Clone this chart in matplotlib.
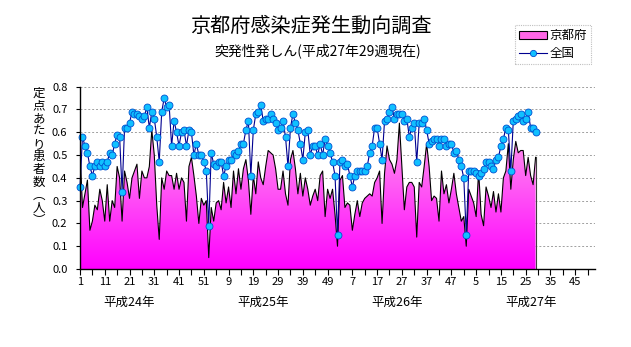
import numpy as np
import matplotlib
matplotlib.use("Agg")
import matplotlib.pyplot as plt
from matplotlib.colors import LinearSegmentedColormap
from matplotlib.patches import Patch
from matplotlib.lines import Line2D
import matplotlib.transforms as mtransforms

plt.rcParams['font.family'] = ['Noto Sans CJK JP', 'DejaVu Sans']

title = "京都府感染症発生動向調査"
subtitle = "突発性発しん(平成27年29週現在)"
series_names = ["京都府", "全国"]
ylabel_chars = ["定", "点", "あ", "た", "り", "患", "者", "数", "︵", "人", "︶"]

# 京都府 (per sentinel), weekly
kyoto_h24 = [0.52, 0.27, 0.33, 0.39, 0.17, 0.21, 0.28, 0.26, 0.35, 0.30,
             0.21, 0.37, 0.21, 0.30, 0.27, 0.45, 0.40, 0.21, 0.43, 0.38,
             0.31, 0.40, 0.43, 0.46, 0.31, 0.43, 0.40, 0.40, 0.45, 0.61,
             0.50, 0.28, 0.13, 0.40, 0.35, 0.43, 0.41, 0.41, 0.35, 0.42,
             0.35, 0.40, 0.38, 0.21, 0.45, 0.49, 0.41, 0.32, 0.20, 0.31,
             0.28, 0.30]
kyoto_h25 = [0.05, 0.27, 0.21, 0.29, 0.30, 0.26, 0.38, 0.29, 0.36, 0.27,
             0.43, 0.33, 0.44, 0.35, 0.44, 0.48, 0.39, 0.24, 0.41, 0.33,
             0.47, 0.40, 0.37, 0.45, 0.52, 0.51, 0.50, 0.44, 0.35, 0.35,
             0.43, 0.33, 0.28, 0.48, 0.52, 0.44, 0.33, 0.42, 0.32, 0.40,
             0.35, 0.28, 0.32, 0.35, 0.30, 0.41, 0.43, 0.23, 0.35, 0.31,
             0.35, 0.24]
kyoto_h26 = [0.10, 0.39, 0.41, 0.27, 0.29, 0.28, 0.17, 0.24, 0.30, 0.23,
             0.29, 0.31, 0.32, 0.33, 0.32, 0.38, 0.40, 0.43, 0.20, 0.42,
             0.54, 0.48, 0.46, 0.42, 0.48, 0.64, 0.45, 0.26, 0.36, 0.38,
             0.38, 0.36, 0.14, 0.38, 0.36, 0.45, 0.55, 0.45, 0.30, 0.32,
             0.31, 0.21, 0.43, 0.33, 0.37, 0.29, 0.35, 0.42, 0.33, 0.27,
             0.21, 0.23]
kyoto_h27 = [0.10, 0.35, 0.32, 0.29, 0.23, 0.43, 0.24, 0.19, 0.36, 0.32,
             0.27, 0.34, 0.25, 0.33, 0.25, 0.40, 0.43, 0.55, 0.35, 0.48,
             0.56, 0.51, 0.52, 0.52, 0.41, 0.49, 0.41, 0.37, 0.49]

# 全国
zenkoku_h24 = [0.36, 0.58, 0.54, 0.51, 0.45, 0.41, 0.45, 0.47, 0.45, 0.47,
               0.45, 0.47, 0.51, 0.50, 0.55, 0.59, 0.58, 0.34, 0.62, 0.62,
               0.64, 0.69, 0.68, 0.68, 0.67, 0.66, 0.67, 0.71, 0.62, 0.69,
               0.66, 0.58, 0.47, 0.69, 0.75, 0.71, 0.72, 0.54, 0.65, 0.60,
               0.54, 0.60, 0.61, 0.54, 0.61, 0.60, 0.50, 0.55, 0.50, 0.50,
               0.47, 0.43]
zenkoku_h25 = [0.19, 0.51, 0.46, 0.45, 0.47, 0.47, 0.41, 0.45, 0.48, 0.48,
               0.51, 0.50, 0.52, 0.55, 0.55, 0.61, 0.65, 0.41, 0.61, 0.68,
               0.69, 0.72, 0.65, 0.66, 0.66, 0.68, 0.66, 0.64, 0.61, 0.62,
               0.65, 0.58, 0.45, 0.62, 0.68, 0.64, 0.61, 0.55, 0.48, 0.60,
               0.61, 0.50, 0.54, 0.54, 0.50, 0.55, 0.50, 0.57, 0.54, 0.51,
               0.47, 0.41]
zenkoku_h26 = [0.15, 0.47, 0.48, 0.45, 0.46, 0.41, 0.36, 0.41, 0.43, 0.43,
               0.43, 0.43, 0.45, 0.51, 0.54, 0.62, 0.62, 0.55, 0.48, 0.65,
               0.66, 0.69, 0.71, 0.66, 0.68, 0.68, 0.68, 0.65, 0.66, 0.58,
               0.62, 0.64, 0.47, 0.64, 0.64, 0.66, 0.61, 0.55, 0.56, 0.57,
               0.57, 0.54, 0.57, 0.57, 0.54, 0.55, 0.55, 0.51, 0.52, 0.48,
               0.45, 0.40]
zenkoku_h27 = [0.15, 0.43, 0.43, 0.43, 0.42, 0.41, 0.42, 0.44, 0.47, 0.47,
               0.45, 0.44, 0.48, 0.49, 0.54, 0.57, 0.62, 0.61, 0.43, 0.65,
               0.66, 0.67, 0.68, 0.65, 0.66, 0.69, 0.62, 0.62, 0.60]

kyoto = np.array(kyoto_h24 + kyoto_h25 + kyoto_h26 + kyoto_h27)
zenkoku = np.array(zenkoku_h24 + zenkoku_h25 + zenkoku_h26 + zenkoku_h27)
weeks = np.arange(1, len(kyoto) + 1)

tick_labels = ["1", "11", "21", "31", "41", "51", "9", "19", "29", "39", "49",
               "7", "17", "27", "37", "47", "5", "15", "25", "35", "45"]
year_labels = ["平成24年", "平成25年", "平成26年", "平成27年"]
year_pos = [21, 75, 129, 183]
yticks = [0.0, 0.1, 0.2, 0.3, 0.4, 0.5, 0.6, 0.7, 0.8]

W, H = 631, 347
fig = plt.figure(figsize=(W / 100, H / 100), dpi=100)
ax = fig.add_axes([80 / W, 1 - 269 / H, 515 / W, (269 - 86.7) / H])

# gradient area for Kyoto
cmap = LinearSegmentedColormap.from_list("pk", ["#ff00ff", "#ffc8e8"])
grad = np.linspace(0, 1, 256).reshape(-1, 1)
poly = ax.fill_between(weeks, kyoto, 0, facecolor='none', edgecolor='none', lw=0)
img = ax.imshow(grad, extent=[weeks[0], weeks[-1], 0, 0.8], origin='lower',
                aspect='auto', cmap=cmap, zorder=1, interpolation='bilinear')
img.set_clip_path(poly.get_paths()[0], transform=ax.transData)
ax.plot(weeks, kyoto, color='black', lw=0.8, zorder=3)
ax.plot([weeks[-1], weeks[-1]], [kyoto[-1], 0], color='#404040', lw=0.8, zorder=3)

# national line
ax.plot(weeks, zenkoku, color='#000090', lw=0.8, marker='o', ms=5.0,
        mfc='#10c0ff', mec='#0050d0', mew=0.6, zorder=4, clip_on=False)

ax.set_xlim(1, 209)
ax.set_ylim(0, 0.8)
ax.set_yticks(yticks)
ax.set_yticklabels([f"{v:.1f}" for v in yticks])
ax.set_xticks(np.arange(1, 202, 10))
ax.set_xticklabels(tick_labels)
ax.set_xticks(np.arange(6, 209, 10), minor=True)
ax.tick_params(axis='x', which='both', direction='out', length=4, width=0.8,
               labelsize=8, pad=2)
ax.tick_params(axis='y', direction='out', length=3, width=0.8, labelsize=8, pad=6)
ax.yaxis.grid(True, color='#a0a0a0', linestyle=(0, (2, 2)), lw=0.7)
ax.set_axisbelow(True)
for s in ['top', 'right']:
    ax.spines[s].set_visible(False)
for s in ['left', 'bottom']:
    ax.spines[s].set_color('black')
    ax.spines[s].set_linewidth(1.0)
    ax.spines[s].set_zorder(5)

trans = mtransforms.blended_transform_factory(ax.transData, ax.transAxes)
for lab, xp in zip(year_labels, year_pos):
    ax.text(xp, -0.18, lab, transform=trans, ha='center', va='center', fontsize=9)

fig.text(311 / W, 1 - 26 / H, title, ha='center', va='center', fontsize=14.5)
fig.text(318 / W, 1 - 51 / H, subtitle, ha='center', va='center', fontsize=10)

for k, ch in enumerate(ylabel_chars):
    fig.text(39 / W, 1 - (93 + k * 12.8) / H, ch, ha='center', va='center',
             fontsize=9)

handles = [Patch(facecolor='#ff66e6', edgecolor='black', lw=0.8),
           Line2D([], [], color='#000090', lw=0.8, marker='o', ms=4.5,
                  mfc='#10c0ff', mec='#0050d0', mew=0.6)]
leg = fig.legend(handles, series_names, loc='upper left',
                 bbox_to_anchor=(515 / W, 1 - 25 / H), fontsize=9,
                 frameon=True, fancybox=False, edgecolor='#b0b0b0',
                 handlelength=2.2, handleheight=0.5, borderpad=0.35,
                 labelspacing=0.35, handletextpad=0.2, borderaxespad=0)
leg.get_frame().set_linewidth(0.8)
leg.get_frame().set_linestyle((0, (1, 1)))

fig.savefig("out.png", dpi=100)
